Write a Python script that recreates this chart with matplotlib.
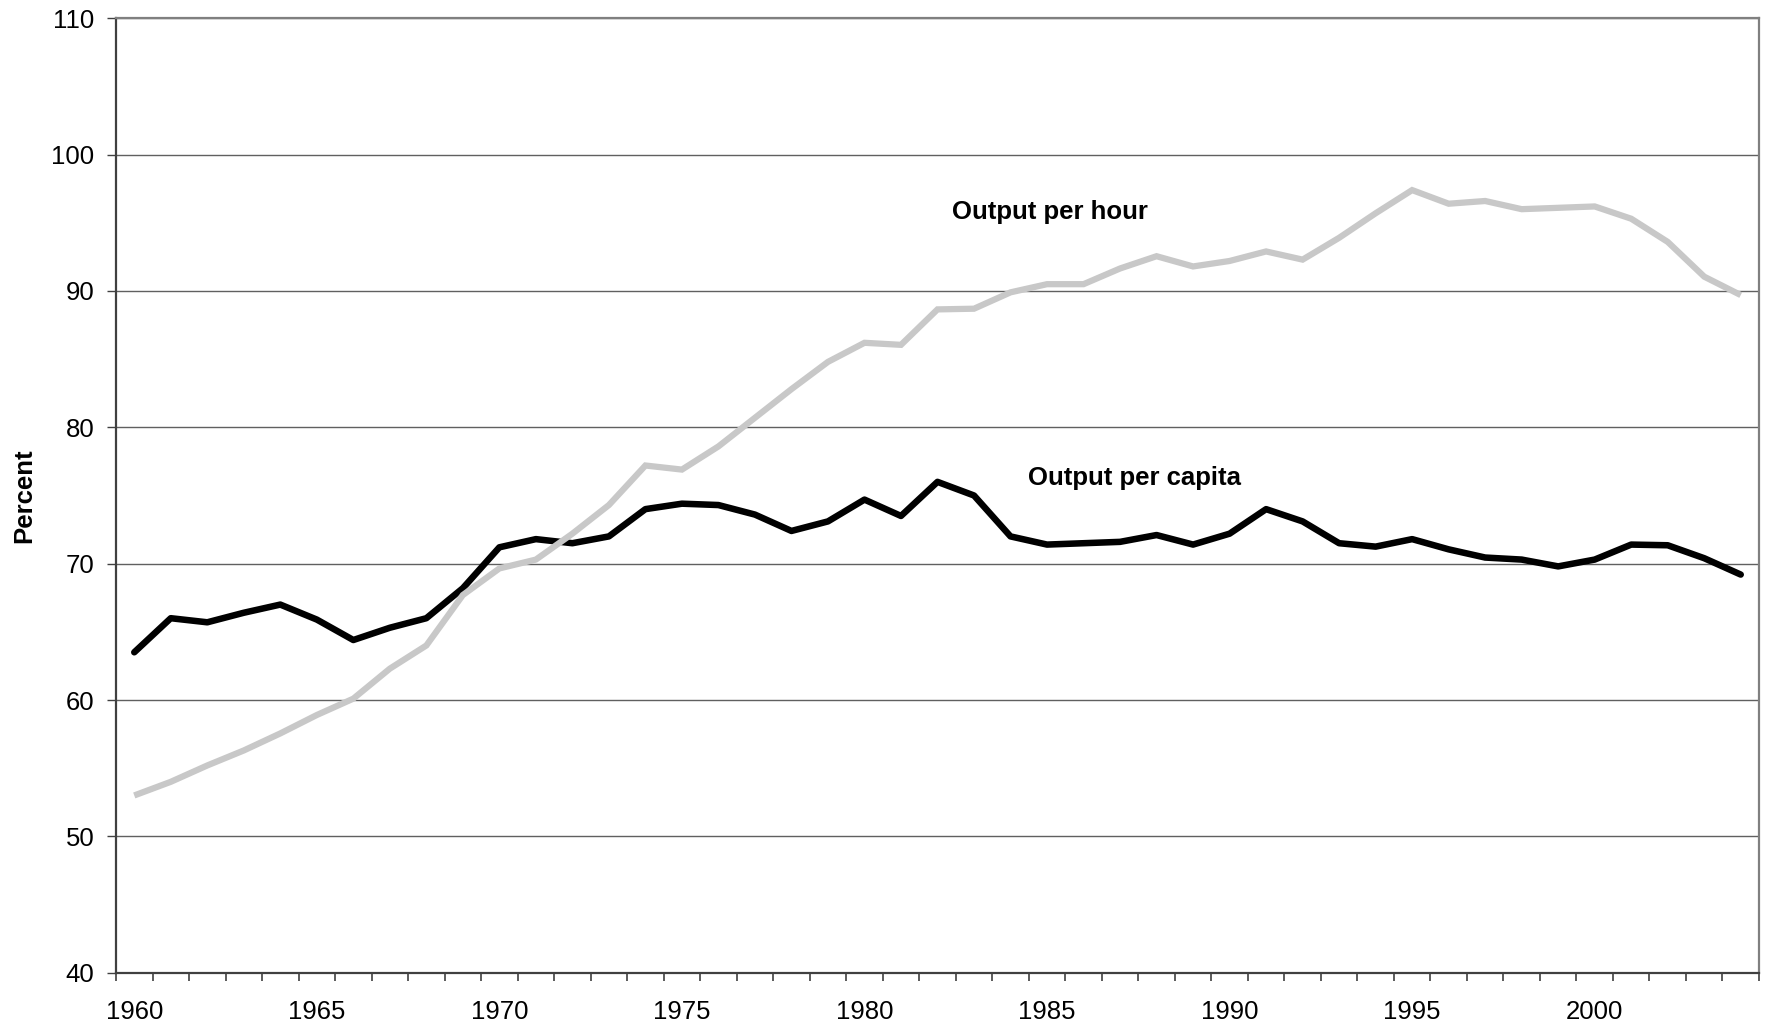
import matplotlib
matplotlib.use("Agg")
import matplotlib.pyplot as plt
import numpy as np

plt.rcParams['font.family'] = ['Liberation Sans', 'DejaVu Sans']

years = list(range(1960, 2005))

output_per_capita = [
    63.5, 66.0, 65.7, 66.4, 67.0, 65.9, 64.4, 65.3, 66.0, 68.2,
    71.2, 71.8, 71.5, 72.0, 74.0, 74.4, 74.3, 73.6, 72.4, 73.1,
    74.7, 73.5, 76.0, 75.0, 72.0, 71.4, 71.5, 71.6, 72.1, 71.4,
    72.2, 74.0, 73.1, 71.5, 71.25, 71.8, 71.05, 70.45, 70.3, 69.8,
    70.3, 71.4, 71.35, 70.4, 69.2,
]

output_per_hour = [
    53.0, 54.0, 55.2, 56.3, 57.55, 58.9, 60.1, 62.3, 64.0, 67.7,
    69.65, 70.3, 72.2, 74.3, 77.2, 76.9, 78.6, 80.7, 82.8, 84.8,
    86.2, 86.05, 88.65, 88.7, 89.9, 90.5, 90.5, 91.65, 92.55, 91.8,
    92.2, 92.9, 92.3, 93.9, 95.7, 97.4, 96.4, 96.6, 96.0, 96.1,
    96.2, 95.3, 93.6, 91.05, 89.7,
]

label_years = list(range(1960, 2001, 5))
y_ticks = list(range(40, 111, 10))

fig = plt.figure(figsize=(17.67, 10.29), dpi=100)
ax = fig.add_axes([0.06565, 0.05471, 0.92982, 0.92751])

ax.plot(years, output_per_capita, color='black', lw=4.7,
        solid_capstyle='round', solid_joinstyle='round', zorder=3)
ax.plot(years, output_per_hour, color='#c8c8c8', lw=4.5,
        solid_capstyle='butt', solid_joinstyle='miter', zorder=4)

ax.set_xlim(1959.5, 2004.5)
ax.set_ylim(40, 110)

ax.set_yticks(y_ticks)
ax.set_yticklabels([str(v) for v in y_ticks], fontsize=18.5)
ax.yaxis.grid(True, color='#606060', lw=1.0)
ax.set_axisbelow(True)

ax.set_xticks(label_years)
ax.set_xticklabels([str(v) for v in label_years], fontsize=18.5)
ax.set_xticks(np.arange(1959.5, 2005.0, 1.0), minor=True)
ax.tick_params(axis='x', which='major', length=0, pad=20)
ax.tick_params(axis='x', which='minor', length=6, width=1.2,
               direction='out', color='#404040')
ax.tick_params(axis='y', which='major', length=6.5, width=1.0,
               direction='out', color='#404040', pad=9)

for side in ['left', 'bottom']:
    ax.spines[side].set_color('#404040')
    ax.spines[side].set_linewidth(1.6)
for side in ['right', 'top']:
    ax.spines[side].set_color('#808080')
    ax.spines[side].set_linewidth(1.6)

ax.set_ylabel('Percent', fontsize=18.5, fontweight='bold', labelpad=11)

ax.text(1985.07, 95.8, 'Output per hour', fontsize=18.5, fontweight='bold',
        ha='center', va='center')
ax.text(1987.4, 76.26, 'Output per capita', fontsize=18.5, fontweight='bold',
        ha='center', va='center')

fig.savefig('out.png', dpi=100)
